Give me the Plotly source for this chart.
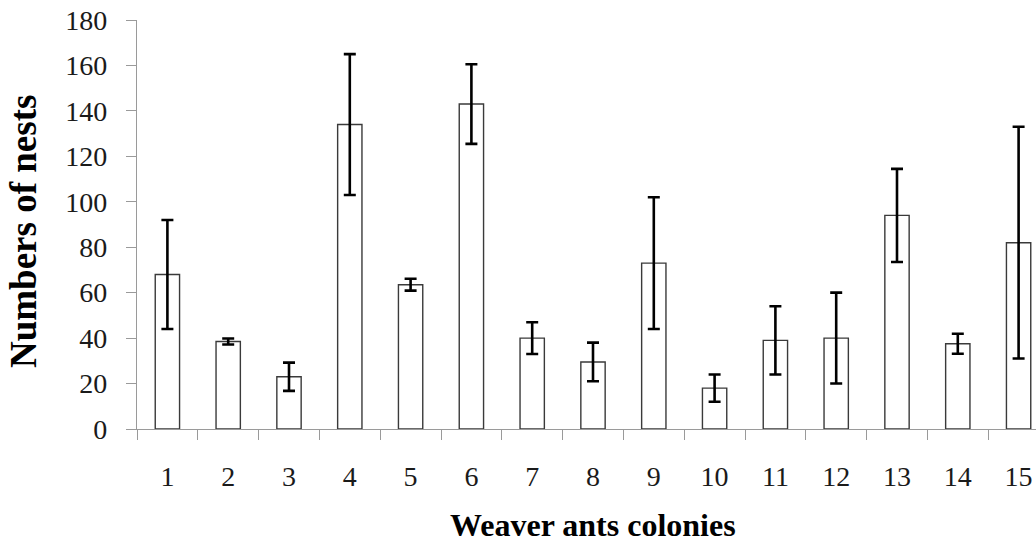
import plotly.graph_objects as go

colonies = [str(i) for i in range(1, 16)]
nests_mean = [68, 38.5, 23, 134, 63.5, 143, 40, 29.5, 73, 18, 39, 40, 94, 37.5, 82]
nests_err = [24, 1.3, 6.2, 31, 2.6, 17.5, 7, 8.5, 29, 6, 15, 20, 20.5, 4.4, 51]
y_ticks = [0, 20, 40, 60, 80, 100, 120, 140, 160, 180]

W, H = 1036, 546
ML, MT, MB = 137, 20, 117
plot_h = H - MT - MB
plot_w = W - ML

FONT = "Liberation Serif, Times New Roman, serif"
AXIS_COLOR = "#9a9a9a"

fig = go.Figure()
fig.add_trace(go.Bar(
    x=colonies,
    y=nests_mean,
    width=0.40,
    marker=dict(color="white", line=dict(color="#3a3a3a", width=1.4)),
    error_y=dict(type="data", array=nests_err, visible=True,
                 color="black", thickness=2.6, width=6),
    showlegend=False,
))

# right end of the x range: the chart is cut off by the window on the right
px_per_cat = 60.8
x_right = -0.5 + plot_w / px_per_cat

fig.update_layout(
    width=W, height=H,
    margin=dict(l=ML, r=0, t=MT, b=MB, pad=0),
    paper_bgcolor="white", plot_bgcolor="white",
    font=dict(family=FONT, color="#1a1a1a", size=28),
    bargap=0.6,
    xaxis=dict(
        type="category",
        range=[-0.5, x_right],
        showline=True, linecolor=AXIS_COLOR, linewidth=1.3,
        ticks="outside", tickson="boundaries", ticklen=10,
        tickcolor=AXIS_COLOR, tickwidth=1.3,
        showgrid=False, zeroline=False,
        tickfont=dict(size=28, family=FONT),
        ticklabelstandoff=22,
    ),
    yaxis=dict(
        range=[0, 180],
        tickvals=y_ticks,
        showline=True, linecolor=AXIS_COLOR, linewidth=1.3,
        ticks="outside", ticklen=10, tickcolor=AXIS_COLOR, tickwidth=1.3,
        showgrid=False, zeroline=False,
        tickfont=dict(size=28, family=FONT),
        ticklabelstandoff=13,
    ),
)

# axis titles
fig.add_annotation(
    text="<b>Numbers of nests</b>", textangle=-90,
    xref="paper", yref="paper",
    x=(24 - ML) / plot_w, y=(H - MB - 232) / plot_h,
    xanchor="center", yanchor="middle", showarrow=False,
    font=dict(family=FONT, size=37, color="black"),
)
fig.add_annotation(
    text="<b>Weaver ants colonies</b>",
    xref="x", yref="paper",
    x=(len(colonies) - 1) / 2, y=-(505 - (H - MB)) / plot_h,
    xanchor="center", yanchor="top", showarrow=False,
    font=dict(family=FONT, size=32, color="black"),
)

fig.write_html("out.html")
